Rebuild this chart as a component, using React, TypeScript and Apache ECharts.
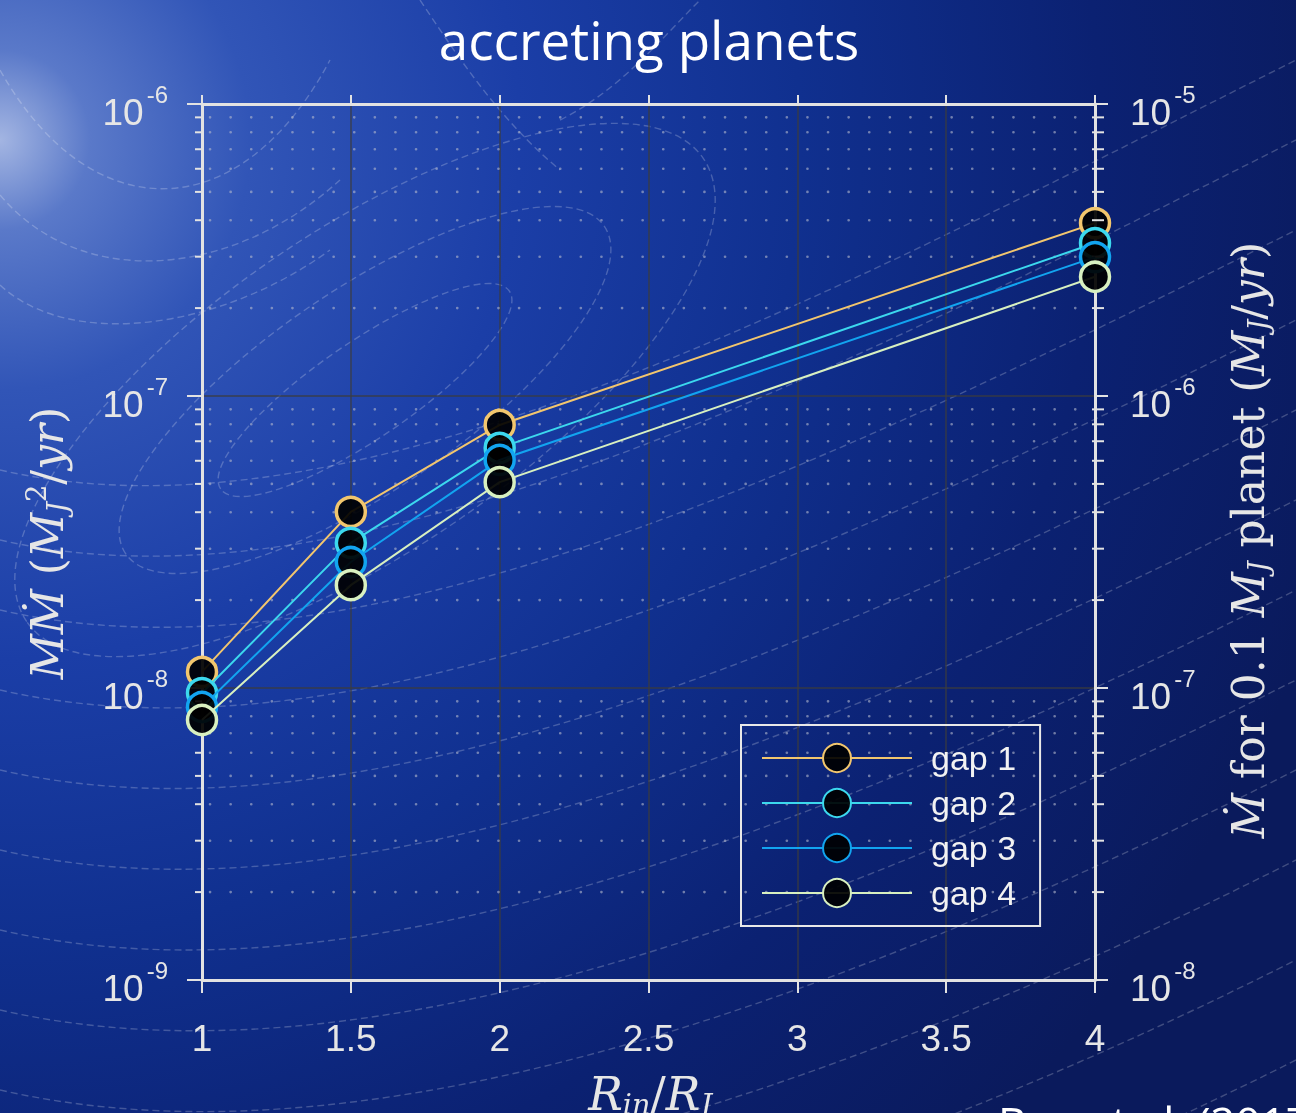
import React, { useEffect, useRef } from "react";
import * as echarts from "echarts";

// ---------- data ----------
const xValues = [1, 1.5, 2, 4];
const gap1 = [1.135e-8, 4.01e-8, 7.96e-8, 3.91e-7];
const gap2 = [9.61e-9, 3.14e-8, 6.64e-8, 3.34e-7];
const gap3 = [8.61e-9, 2.7e-8, 6.04e-8, 2.99e-7];
const gap4 = [7.77e-9, 2.25e-8, 5.07e-8, 2.56e-7];
const seriesNames = ["gap 1", "gap 2", "gap 3", "gap 4"];
const seriesValues = [gap1, gap2, gap3, gap4];
const seriesColors = ["#f2c66e", "#3cd8ee", "#12a4f0", "#d8f0c0"];

const xMin = 1;
const xMax = 4;
const xStep = 0.5;
const leftMin = 1e-9;
const leftMax = 1e-6;
const rightMin = 1e-8;
const rightMax = 1e-5;
const minorMultipliers = [2, 3, 4, 5, 6, 7, 8, 9];
const leftDecadeStarts = [1e-9, 1e-8, 1e-7];
const rightDecadeStarts = [1e-8, 1e-7, 1e-6];

const titleText = "accreting planets";
const creditText = "Bae et al. (2017)";

// ---------- styles ----------
const SANS = '"Liberation Sans", Arial, sans-serif';
const SERIF = '"DejaVu Serif", "Liberation Serif", serif';
const TITLE_FONT = '"Open Sans", Lato, sans-serif';
const AX = "#e2e2e2";
const LABEL = "#e6e6e6";
const CONTOUR = "rgba(255,255,255,0.22)";

const powLabel = (v: number) => `{b|10}{s|${Math.round(Math.log10(v))}}`;
const powRich = {
  b: { fontSize: 37, fontFamily: SANS, color: LABEL, padding: [16, 0, 0, 0], verticalAlign: "middle" },
  s: { fontSize: 24, fontFamily: SANS, color: LABEL, padding: [0, 0, 20, 3], verticalAlign: "middle" },
};

const mathRich = (size: number) => ({
  i: { fontFamily: SERIF, fontStyle: "italic", fontSize: size, fill: LABEL, color: LABEL, verticalAlign: "middle" },
  n: { fontFamily: SERIF, fontSize: size, fill: LABEL, color: LABEL, verticalAlign: "middle" },
  sub: { fontFamily: SERIF, fontStyle: "italic", fontSize: size * 0.62, fill: LABEL, color: LABEL, padding: [20, 0, 0, 0], verticalAlign: "middle" },
  sup: { fontFamily: SERIF, fontSize: size * 0.62, fill: LABEL, color: LABEL, padding: [0, 0, 22, 0], verticalAlign: "middle" },
});

function buildDecor() {
  const decor: any[] = [];
  const contourStyle = { fill: "none", stroke: CONTOUR, lineWidth: 1.4, lineDash: [7, 4] };
  const ringRx = [175, 290, 410];
  const ringRy = [48, 100, 160];
  ringRx.forEach((rx, i) =>
    decor.push({
      type: "ellipse", x: 365, y: 390, rotation: 0.6, silent: true, z: -10,
      shape: { cx: 0, cy: 0, rx, ry: ringRy[i] }, style: contourStyle,
    })
  );
  const uCurves = [
    [0, 70, 90, 230, 240, 230, 330, 60],
    [0, 195, 80, 290, 230, 280, 340, 180],
    [0, 285, 70, 350, 220, 330, 330, 250],
    [420, 0, 460, 60, 500, 120, 560, 170],
    [560, 120, 620, 90, 660, 40, 700, 0],
  ];
  uCurves.forEach((c) =>
    decor.push({
      type: "bezierCurve", silent: true, z: -10,
      shape: { x1: c[0], y1: c[1], cpx1: c[2], cpy1: c[3], cpx2: c[4], cpy2: c[5], x2: c[6], y2: c[7] },
      style: contourStyle,
    })
  );
  const sweep = [
    [470, 60], [540, 140], [610, 230], [690, 320], [770, 410], [850, 500],
    [930, 590], [1010, 680], [1090, 770], [1170, 860], [1250, 960], [1330, 1060],
  ];
  sweep.forEach(([yl, yr]) =>
    decor.push({
      type: "bezierCurve", silent: true, z: -10,
      shape: { x1: 0, y1: yl, cpx1: 350, cpy1: yl + 80, cpx2: 800, cpy2: yr + 250, x2: 1296, y2: yr },
      style: contourStyle,
    })
  );
  return decor;
}

function buildTexts() {
  return [
    {
      type: "text", x: 649, y: 39, z: 20,
      style: { text: titleText, fill: "#ffffff", fontSize: 53, fontFamily: TITLE_FONT, align: "center", verticalAlign: "middle", textAlign: "center", textVerticalAlign: "middle" },
    },
    {
      type: "text", x: 998, y: 1100, z: 20,
      style: { text: creditText, fill: "#ffffff", fontSize: 44, fontFamily: TITLE_FONT, align: "left", verticalAlign: "top", textAlign: "left", textVerticalAlign: "top" },
    },
    {
      type: "text", x: 47, y: 543, rotation: Math.PI / 2, z: 20,
      style: {
        text: "{i|MṀ}{n| (}{i|M}{sub|J}{sup|2}{n|/}{i|yr}{n|)}",
        rich: mathRich(44), fill: LABEL, align: "center", verticalAlign: "middle", textAlign: "center", textVerticalAlign: "middle",
      },
    },
    {
      type: "text", x: 1248, y: 540, rotation: Math.PI / 2, z: 20,
      style: {
        text: "{i|Ṁ}{n| for 0.1 }{i|M}{sub|J}{n| planet (}{i|M}{sub|J}{n|/}{i|yr}{n|)}",
        rich: mathRich(44), fill: LABEL, align: "center", verticalAlign: "middle", textAlign: "center", textVerticalAlign: "middle",
      },
    },
    {
      type: "text", x: 650, y: 1094, z: 20,
      style: {
        text: "{i|R}{sub|in}{n|/}{i|R}{sub|J}",
        rich: mathRich(46), fill: LABEL, align: "center", verticalAlign: "middle", textAlign: "center", textVerticalAlign: "middle",
      },
    },
  ];
}

function buildOption(): any {
  return {
    animation: false,
    grid: { left: 202, right: 201, top: 104, bottom: 133, containLabel: false, outerBoundsMode: "none" },
    xAxis: [
      {
        type: "value", min: xMin, max: xMax, interval: xStep, position: "bottom",
        axisLine: { show: true, onZero: false, lineStyle: { color: AX, width: 3 } },
        axisTick: { show: true, length: 13, lineStyle: { color: AX, width: 2 } },
        axisLabel: { show: true, margin: 40, fontSize: 37, fontFamily: SANS, color: LABEL, showMinLabel: true, showMaxLabel: true },
        splitLine: { show: true, lineStyle: { color: "rgba(60,60,60,0.8)", width: 1.5 } },
      },
      {
        type: "value", min: xMin, max: xMax, interval: xStep, position: "top",
        axisLine: { show: true, onZero: false, lineStyle: { color: AX, width: 3 } },
        axisTick: { show: true, length: 9, lineStyle: { color: AX, width: 2 } },
        axisLabel: { show: false },
        splitLine: { show: false },
      },
    ],
    yAxis: [
      {
        type: "log", logBase: 10, min: leftMin, max: leftMax, position: "left",
        axisLine: { show: true, onZero: false, lineStyle: { color: AX, width: 3 } },
        axisTick: { show: true, length: 15, lineStyle: { color: AX, width: 2 } },
        axisLabel: { show: true, margin: 34, formatter: powLabel, rich: powRich, showMinLabel: true, showMaxLabel: true },
        splitLine: { show: true, lineStyle: { color: "rgba(60,60,60,0.85)", width: 1.5 } },
      },
      {
        type: "log", logBase: 10, min: rightMin, max: rightMax, position: "right",
        axisLine: { show: true, onZero: false, lineStyle: { color: AX, width: 3 } },
        axisTick: { show: true, length: 13, lineStyle: { color: AX, width: 2 } },
        axisLabel: { show: true, margin: 35, formatter: powLabel, rich: powRich, showMinLabel: true, showMaxLabel: true },
        splitLine: { show: false },
      },
    ],
    legend: {
      orient: "vertical", left: 741, top: 725, padding: [16, 24, 16, 20],
      itemWidth: 150, itemHeight: 35, itemGap: 11,
      borderColor: "#e8e8e8", borderWidth: 2, backgroundColor: "rgba(0,0,0,0)",
      textStyle: { color: "#f2f2f2", fontSize: 34, fontFamily: SANS, padding: [0, 0, 0, 14] },
      data: seriesNames,
    },
    series: seriesNames.map((name, i) => ({
      type: "line", name, xAxisIndex: 0, yAxisIndex: 0, clip: false,
      data: xValues.map((x, j) => [x, seriesValues[i][j]]),
      symbol: "circle", symbolSize: 29,
      itemStyle: { color: "rgba(0,0,0,0.92)", borderColor: seriesColors[i], borderWidth: 3.5 },
      lineStyle: { color: seriesColors[i], width: 2 },
      z: 3 + i,
    })),
  };
}

export default function App() {
  const ref = useRef<HTMLDivElement>(null);
  useEffect(() => {
    if (!ref.current) return;
    const chart = echarts.init(ref.current, null, { renderer: "svg" });
    chart.setOption(buildOption());

    const extra: any[] = [];
    const xl = chart.convertToPixel({ xAxisIndex: 0 } as any, xMin) as unknown as number;
    const xr = chart.convertToPixel({ xAxisIndex: 0 } as any, xMax) as unknown as number;
    if (isFinite(xl) && isFinite(xr)) {
      leftDecadeStarts.forEach((d) =>
        minorMultipliers.forEach((m) => {
          const y = chart.convertToPixel({ yAxisIndex: 0 } as any, d * m) as unknown as number;
          if (!isFinite(y)) return;
          extra.push({
            type: "line", silent: true, z: 1,
            shape: { x1: xl + 8, y1: y, x2: xr - 4, y2: y },
            style: { stroke: "rgba(180,185,205,0.6)", lineWidth: 2.6, lineDash: [0.1, 20.5], lineCap: "round" },
          });
          extra.push({
            type: "line", silent: true, z: 5,
            shape: { x1: xl - 7, y1: y, x2: xl, y2: y },
            style: { stroke: AX, lineWidth: 2 },
          });
        })
      );
      rightDecadeStarts.forEach((d) =>
        minorMultipliers.forEach((m) => {
          const y = chart.convertToPixel({ yAxisIndex: 1 } as any, d * m) as unknown as number;
          if (!isFinite(y)) return;
          extra.push({
            type: "line", silent: true, z: 5,
            shape: { x1: xr - 3, y1: y, x2: xr + 9, y2: y },
            style: { stroke: AX, lineWidth: 2 },
          });
        })
      );
    }
    chart.setOption({ graphic: [...buildDecor(), ...extra, ...buildTexts()] });
    return () => chart.dispose();
  }, []);

  return (
    <div
      style={{
        position: "fixed",
        left: 0,
        top: 0,
        width: 1296,
        height: 1113,
        overflow: "hidden",
        background:
          "radial-gradient(circle at 0px 140px, #a3b5e2 0px, #5a79c9 90px, #3155b7 250px, #1b3ea7 520px, #10308f 800px, #0b2172 1100px, #0a1a5c 1400px)",
      }}
    >
      <div ref={ref} style={{ width: 1296, height: 1113 }} />
    </div>
  );
}
